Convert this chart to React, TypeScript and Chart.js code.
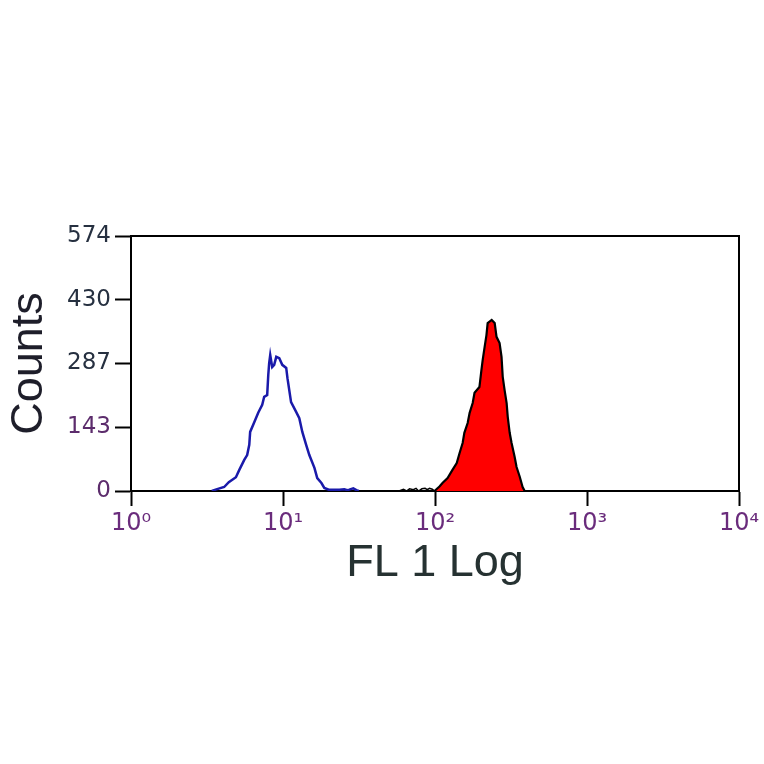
import React, { useEffect, useRef } from "react";
import { Chart, registerables } from "chart.js";

Chart.register(...registerables);

// Tick values and labels
const xTicks = [1, 10, 100, 1000, 10000];
const xTickLabels = ["10⁰", "10¹", "10²", "10³", "10⁴"];
const yTicks = [0, 143, 287, 430, 574];

// Unstained / control histogram (blue outline)
const blueX = [3.4, 3.6, 4.1, 4.4, 4.9, 5.15, 5.56, 5.81, 6.0, 6.08, 6.47, 6.87, 7.3, 7.52, 7.87, 8.0, 8.11, 8.24, 8.49, 8.75, 9.03, 9.45, 9.89, 10.5, 10.7, 11.3, 12.2, 12.8, 13.4, 14.2, 14.9, 16.1, 16.8, 17.9, 18.7, 20.0, 23.5, 25.3, 26.5, 27.3, 29.0, 30.4, 31.5];
const blueY = [0, 3, 9, 20, 31, 47, 70, 81, 104, 133, 155, 176, 194, 212, 216, 261, 288, 306, 279, 284, 302, 299, 284, 277, 254, 200, 178, 164, 133, 104, 81, 52, 29, 18, 7, 3, 3, 4, 2, 3, 6, 2, 0];

// Low-level events before the stained peak (black)
const blipX = [58, 62, 65, 68, 72, 75, 78, 82, 86, 89, 92, 96, 99.3];
const blipY = [0, 4, 0, 5, 3, 6, 0, 5, 6, 3, 6, 4, 0];

// Stained histogram (red filled)
const redX = [99.3, 103, 107, 112, 121, 130, 139, 145, 152, 156, 164, 169, 177, 182, 196, 202, 206, 212, 218, 222, 236, 247, 254, 266, 274, 279, 287, 296, 301, 310, 319, 334, 344, 361, 377, 389];
const redY = [0, 5, 10, 18, 29, 47, 63, 85, 108, 131, 153, 176, 198, 221, 234, 272, 295, 324, 351, 378, 385, 378, 347, 333, 302, 257, 227, 198, 167, 131, 108, 77, 54, 32, 9, 0];

const toPoints = (xs: number[], ys: number[]) => xs.map((x, i) => ({ x, y: ys[i] }));

export default function App() {
  const ref = useRef<HTMLCanvasElement>(null);

  useEffect(() => {
    document.body.style.margin = "0";
    const boxPlugin = {
      id: "boxFrame",
      afterDatasetsDraw(chart: any) {
        const { ctx, chartArea: a } = chart;
        ctx.save();
        ctx.strokeStyle = "#000";
        ctx.lineWidth = 2;
        ctx.beginPath();
        ctx.moveTo(a.left, a.top);
        ctx.lineTo(a.right, a.top);
        ctx.lineTo(a.right, a.bottom);
        ctx.stroke();
        ctx.restore();
      },
    };

    const chart = new Chart(ref.current as HTMLCanvasElement, {
      type: "line",
      data: {
        datasets: [
          {
            data: toPoints(blueX, blueY),
            borderColor: "#1a1aaa",
            borderWidth: 2.5,
            pointRadius: 0,
            fill: false,
            tension: 0,
          },
          {
            data: toPoints(blipX, blipY),
            borderColor: "#000",
            borderWidth: 1.5,
            pointRadius: 0,
            fill: false,
            tension: 0,
          },
          {
            data: toPoints(redX, redY),
            borderColor: "#000",
            backgroundColor: "#ff0000",
            borderWidth: 2.2,
            pointRadius: 0,
            fill: "origin",
            tension: 0,
          },
        ],
      },
      options: {
        responsive: false,
        animation: false,
        layout: { padding: { left: 0, right: 25, top: 236, bottom: 169 } },
        plugins: { legend: { display: false }, tooltip: { enabled: false } },
        scales: {
          x: {
            type: "logarithmic",
            min: 1,
            max: 10000,
            afterBuildTicks: (s: any) => {
              s.ticks = xTicks.map((v) => ({ value: v }));
            },
            afterFit: (s: any) => {
              s.height = 104;
              s.paddingLeft = 0;
              s.paddingRight = 0;
            },
            grid: {
              drawOnChartArea: false,
              drawTicks: true,
              tickLength: 15,
              tickWidth: 2,
              tickColor: "#000",
            },
            border: { display: true, color: "#000", width: 2 },
            ticks: {
              autoSkip: false,
              maxRotation: 0,
              padding: 3,
              color: "#6a2c7c",
              font: { family: "DejaVu Sans", size: 24 },
              callback: (_v: any, i: number) => xTickLabels[i],
            },
            title: {
              display: true,
              text: "FL 1 Log",
              color: "#263232",
              font: { family: "Liberation Sans", size: 45 },
              padding: { top: 0, bottom: 4 },
            },
          },
          y: {
            type: "linear",
            min: 0,
            max: 574,
            afterBuildTicks: (s: any) => {
              s.ticks = yTicks.map((v) => ({ value: v }));
            },
            afterFit: (s: any) => {
              s.width = 131;
              s.paddingTop = 0;
              s.paddingBottom = 0;
            },
            grid: {
              drawOnChartArea: false,
              drawTicks: true,
              tickLength: 16,
              tickWidth: 2,
              tickColor: "#000",
            },
            border: { display: true, color: "#000", width: 2 },
            ticks: {
              autoSkip: false,
              padding: 4,
              color: (c: any) => (c.tick && (c.tick.value === 143 || c.tick.value === 0) ? "#5c2c6c" : "#263040"),
              font: { family: "DejaVu Sans", size: 23 },
              callback: (v: any) => String(v),
            },
            title: {
              display: true,
              text: "Counts",
              color: "#1e1e2a",
              font: { family: "Liberation Sans", size: 45 },
              padding: { top: 3, bottom: 0 },
            },
          },
        },
      },
      plugins: [boxPlugin],
    } as any);

    return () => chart.destroy();
  }, []);

  return (
    <div style={{ width: 764, height: 764 }}>
      <canvas ref={ref} width={764} height={764} />
    </div>
  );
}
